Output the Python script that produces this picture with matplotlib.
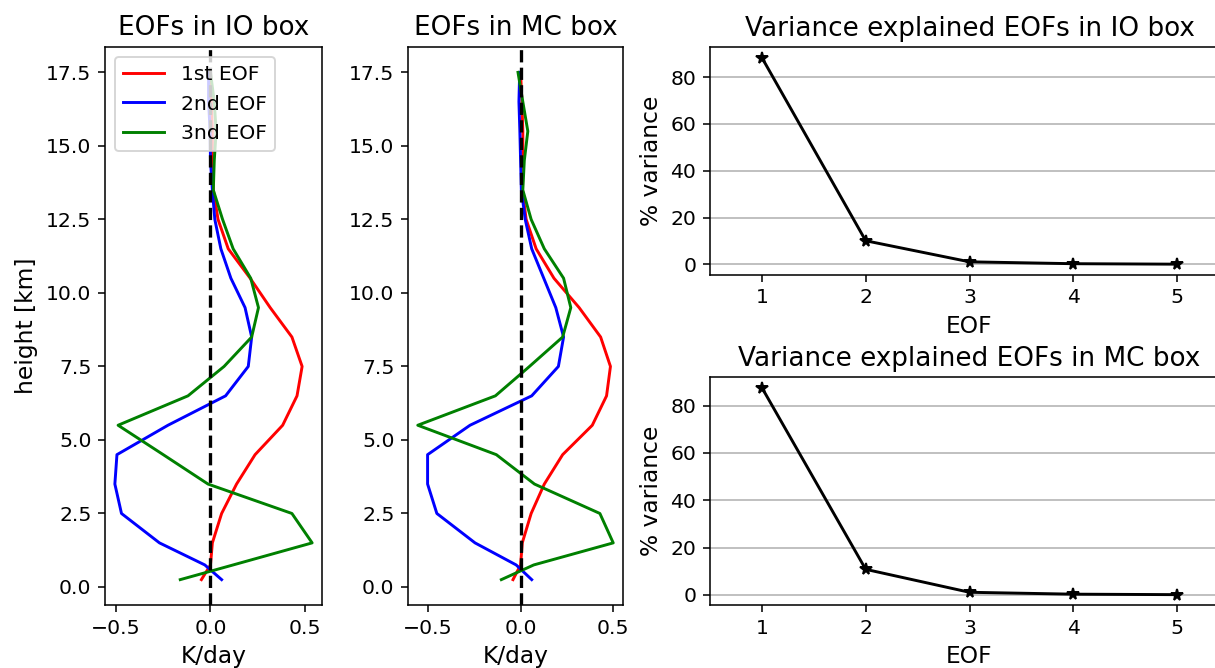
import numpy as np
import matplotlib
matplotlib.use("Agg")
import matplotlib.pyplot as plt

# vertical levels of the heating profiles (km)
height = [0.25, 0.75, 1.5, 2.5, 3.5, 4.5, 5.5, 6.5, 7.5, 8.5, 9.5,
          10.5, 11.5, 12.5, 13.5, 14.5, 15.5, 16.5, 17.5]

# leading EOFs of heating (K/day), IO box
io_eof1 = [-0.048, 0.0, 0.01, 0.059, 0.138, 0.236, 0.382, 0.458, 0.485, 0.431,
           0.316, 0.21, 0.094, 0.04, 0.015, 0.01, 0.01, 0.005, 0.0]
io_eof2 = [0.059, -0.03, -0.27, -0.471, -0.506, -0.495, -0.225, 0.08, 0.2, 0.218,
           0.183, 0.108, 0.055, 0.023, 0.01, 0.0, -0.002, -0.01, -0.01]
io_eof3 = [-0.16, 0.12, 0.538, 0.431, -0.013, -0.25, -0.489, -0.119, 0.072, 0.218,
           0.254, 0.213, 0.12, 0.064, 0.015, 0.02, 0.03, 0.02, 0.0]

# leading EOFs of heating (K/day), MC box
mc_eof1 = [-0.041, 0.0, 0.009, 0.057, 0.128, 0.227, 0.387, 0.464, 0.485, 0.432,
           0.316, 0.18, 0.084, 0.03, 0.01, 0.012, 0.012, 0.007, 0.0]
mc_eof2 = [0.06, -0.024, -0.246, -0.452, -0.502, -0.502, -0.273, 0.06, 0.204, 0.232,
           0.19, 0.125, 0.06, 0.025, 0.004, 0.0, -0.004, -0.009, -0.005]
mc_eof3 = [-0.104, 0.071, 0.5, 0.428, 0.075, -0.131, -0.555, -0.136, 0.048, 0.227,
           0.271, 0.232, 0.128, 0.057, 0.012, 0.02, 0.039, 0.012, -0.014]

# percentage of variance explained per EOF
eof_num = [1, 2, 3, 4, 5]
io_var = [88.3, 10.1, 1.1, 0.3, 0.1]
mc_var = [87.6, 10.8, 1.1, 0.3, 0.1]

plt.rcParams["axes.titlesize"] = 13.5
plt.rcParams["axes.labelsize"] = 12
plt.rcParams["xtick.labelsize"] = 10.5
plt.rcParams["ytick.labelsize"] = 10.5
plt.rcParams["legend.fontsize"] = 10.5

W, H = 1215, 668
fig = plt.figure(figsize=(W / 140, H / 140), dpi=140)

def rect(x0, y0, x1, y1):
    # pixel box (top-left origin) -> figure fraction
    return [x0 / W, 1 - y1 / H, (x1 - x0) / W, (y1 - y0) / H]

ax1 = fig.add_axes(rect(105, 47, 322, 605))
ax2 = fig.add_axes(rect(408, 47, 623, 605))
ax3 = fig.add_axes(rect(710, 47.3, 1229, 274.5))
ax4 = fig.add_axes(rect(710, 377.3, 1229, 605))

for ax, e1, e2, e3, box in [(ax1, io_eof1, io_eof2, io_eof3, "IO"),
                            (ax2, mc_eof1, mc_eof2, mc_eof3, "MC")]:
    ax.plot(e1, height, color="red", label="1st EOF")
    ax.plot(e2, height, color="blue", label="2nd EOF")
    ax.plot(e3, height, color="green", label="3nd EOF")
    ax.axvline(0, color="k", linestyle="--", linewidth=1.7)
    ax.set_title(f"EOFs in {box} box")
    ax.set_xlabel("K/day")

ax1.set_ylabel("height [km]")
ax1.legend(loc="upper left")

for ax, var, box in [(ax3, io_var, "IO"), (ax4, mc_var, "MC")]:
    ax.plot(eof_num, var, "k*-")
    ax.set_xlim(0.5, 5.5)
    ax.set_xticks(eof_num)
    ax.grid(axis="y")
    ax.set_title(f"Variance explained EOFs in {box} box")
    ax.set_xlabel("EOF")
    ax.set_ylabel("% variance")

plt.savefig("out.png", dpi=140)
plt.close()
